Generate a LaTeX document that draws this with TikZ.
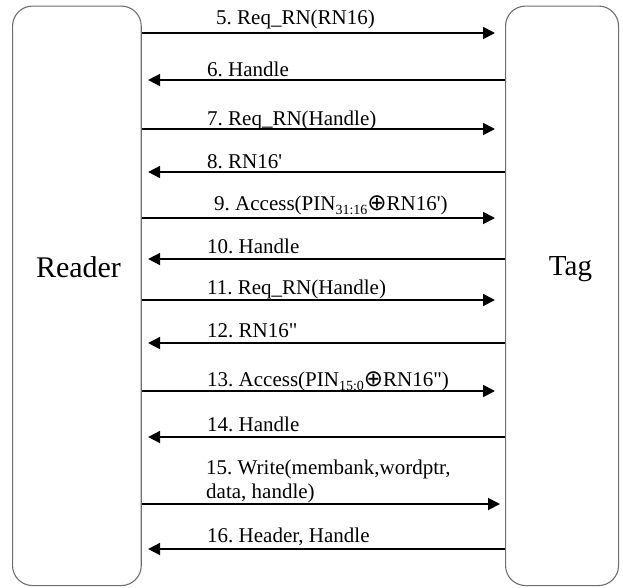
\documentclass[tikz,border=0pt]{standalone}
\usepackage{fontspec}
\setmainfont{Liberation Serif}[Ligatures=TeXOff]
\newfontfamily\symfont{DejaVu Sans}
\usetikzlibrary{arrows.meta}
\frenchspacing
\definecolor{boxgray}{RGB}{110,110,110}
\newcommand{\xorsym}{{\symfont\fontsize{23}{23}\selectfont\raisebox{-0.5pt}{⊕}}}
\newcommand{\subidx}[1]{\raisebox{-4.5pt}{\fontsize{14}{14}\selectfont #1}}
\begin{document}
\begin{tikzpicture}[x=1pt,y=-1pt,
  party/.style={draw=boxgray,line width=1.1pt,rounded corners=20pt,inner sep=0pt,anchor=north west},
  who/.style={inner sep=0pt,anchor=base,font=\fontsize{30}{30}\selectfont},
  msg/.style={line width=1.8pt,-{Triangle[length=12pt,width=12pt]}},
  lab/.style={inner sep=0pt,anchor=base west,font=\fontsize{21}{24}\selectfont,align=left}]
\useasboundingbox (0,0) rectangle (623,587);
\node[party,minimum width=128.7pt,minimum height=579.5pt] (reader) at (12,5.5) {};
\node[party,minimum width=113pt,minimum height=579.5pt] (tag) at (505,5.5) {};
\node[who] (readertxt) at (78.5,277) {Reader};
\node[who,font=\fontsize{29}{29}\selectfont] (tagtxt) at (570.5,275) {Tag};
% messages
\draw[msg,shorten >=10pt] (reader.east |- 0,33) -- (tag.west |- 0,33);
\node[lab] (l5) at (216,24) {5. Req\_RN(RN16)};
\draw[msg,shorten >=6.3pt] (tag.west |- 0,80) -- (reader.east |- 0,80);
\node[lab] (l6) at (207,76) {6. Handle};
\draw[msg,shorten >=10pt] (reader.east |- 0,129) -- (tag.west |- 0,129);
\node[lab] (l7) at (207,125) {7. Req\_RN(Handle)};
\draw[msg,shorten >=6.3pt] (tag.west |- 0,172) -- (reader.east |- 0,172);
\node[lab] (l8) at (207,168) {8. RN16'};
\draw[msg,shorten >=10pt] (reader.east |- 0,218) -- (tag.west |- 0,218);
\node[lab] (l9) at (214,210) {9. Access(PIN\subidx{31:16}\xorsym RN16')};
\draw[msg,shorten >=6.3pt] (tag.west |- 0,259) -- (reader.east |- 0,259);
\node[lab] (l10) at (207,253) {10. Handle};
\draw[msg,shorten >=10pt] (reader.east |- 0,300) -- (tag.west |- 0,300);
\node[lab] (l11) at (207,294) {11. Req\_RN(Handle)};
\draw[msg,shorten >=6.3pt] (tag.west |- 0,343) -- (reader.east |- 0,343);
\node[lab] (l12) at (207,337) {12. RN16"};
\draw[msg,shorten >=10pt] (reader.east |- 0,391) -- (tag.west |- 0,391);
\node[lab] (l13) at (207,386) {13. Access(PIN\subidx{15:0}\xorsym RN16")};
\draw[msg,shorten >=6.3pt] (tag.west |- 0,437) -- (reader.east |- 0,437);
\node[lab] (l14) at (207,431) {14. Handle};
\draw[msg,shorten >=5pt] (reader.east |- 0,504) -- (tag.west |- 0,504);
\node[lab] (l15) at (206,498) {15. Write(membank,wordptr,\\data, handle)};
\draw[msg,shorten >=6.3pt] (tag.west |- 0,549) -- (reader.east |- 0,549);
\node[lab] (l16) at (207,542) {16. Header, Handle};
\end{tikzpicture}
\end{document}
